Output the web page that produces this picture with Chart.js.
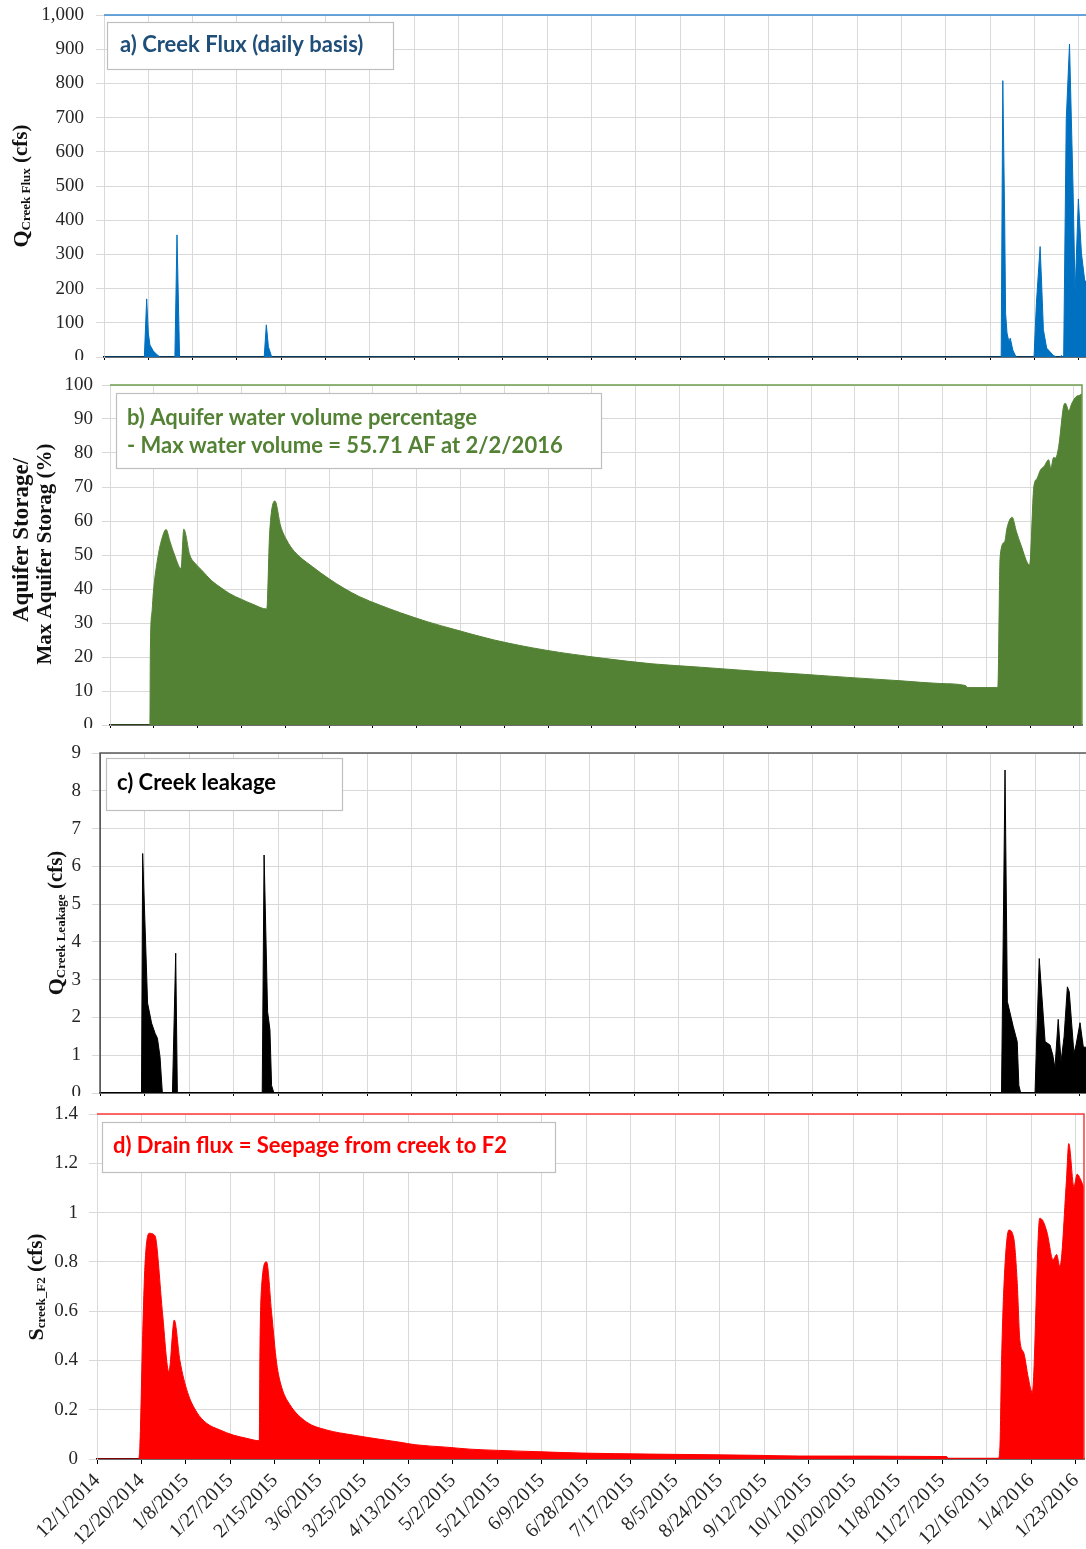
<!DOCTYPE html>
<html>
<head>
<meta charset="utf-8">
<title>Creek flux, aquifer storage, leakage and drain flux</title>
<script src="https://cdn.jsdelivr.net/npm/chart.js@4.4.1/dist/chart.umd.min.js"></script>
<style>
  html, body { margin: 0; padding: 0; background: #fff; overflow: hidden; }
  body { width: 1086px; height: 1549px; position: relative; }
  canvas { position: absolute; left: 0; }
</style>
</head>
<body>
<canvas id="panelA" width="1100" height="360" style="top:0px"></canvas>
<canvas id="panelB" width="1086" height="368" style="top:360px"></canvas>
<canvas id="panelC" width="1100" height="368" style="top:728px"></canvas>
<canvas id="panelD" width="1086" height="453" style="top:1096px"></canvas>
<script>
// x axis: days since 12/1/2014, one tick every 19 days
var dateLabels = ['12/1/2014', '12/20/2014', '1/8/2015', '1/27/2015', '2/15/2015', '3/6/2015',
  '3/25/2015', '4/13/2015', '5/2/2015', '5/21/2015', '6/9/2015', '6/28/2015', '7/17/2015',
  '8/5/2015', '8/24/2015', '9/12/2015', '10/1/2015', '10/20/2015', '11/8/2015', '11/27/2015',
  '12/16/2015', '1/4/2016', '1/23/2016'];
var xMax = 421.5;

// a) creek flux (cfs)
var creekFluxDays = [0, 17.3, 18.3, 19, 19.7, 21.1, 22.5, 24, 30.4, 31.3, 32.4, 68.7, 69.6, 70.5, 71.9,
  384.7, 385.4, 386.2, 386.6, 387.2, 388, 388.6, 389.7, 391.1, 398.8, 399.8, 401.4, 402.1, 402.8,
  404.2, 407, 408.4, 410, 410.5, 411, 411.5, 412.6, 414, 415.5, 416.4, 417.8, 419.1, 420.5, 421.5];
var creekFluxCfs = [0, 0, 170, 70, 35, 18, 8, 0, 0, 357, 0, 0, 94, 30, 0,
  0, 808, 400, 128, 70, 45, 55, 20, 0, 0, 157, 323, 205, 80,
  26, 5, 0, 0, 5, 0, 0, 693, 915, 498, 187, 462, 304, 225, 215];

// b) aquifer storage / max storage (%)
var aquiferDays = [0, 17.3, 17.5, 18.3, 18.8, 20.8, 22.6, 24.3, 26, 28, 30.8, 32, 34.6, 37, 39.7, 44,
  48.3, 52, 56.9, 62, 68, 69.2, 71.5, 74, 76.6, 80, 87.7, 95, 101.5, 108, 116.9, 126, 137.5, 150,
  166.6, 189, 213, 235, 256, 280, 299, 320, 343, 360, 371, 372, 385, 386, 388, 389, 391.2, 393,
  395, 398.8, 400.6, 402, 403.5, 405, 407, 408, 409.2, 410, 411.4, 413.6, 414.3, 415.8, 417, 419,
  420.5, 421.5];
var aquiferPct = [0, 0, 22, 34, 39, 49.5, 55, 57.5, 54, 50, 46, 57.6, 50, 47.5, 45.6, 42.5,
  40.3, 38.6, 37, 35.5, 34.1, 56, 65.9, 58.5, 54.4, 51, 46.6, 43, 40.2, 37.8, 35.3, 33, 30.4, 28,
  25, 22, 19.7, 18, 17, 15.8, 15, 14, 13, 12.2, 11.6, 11, 11, 49.5, 54, 58, 61.1, 57,
  53, 47, 70, 72.5, 75, 76, 78, 75.6, 78.7, 78.5, 81.9, 94, 94.6, 92.4, 94.5, 96.6,
  97, 97.5];

// c) creek leakage (cfs)
var leakageDays = [0, 17.7, 18.2, 20.3, 22, 23.5, 24.5, 25.6, 26.6, 30.9, 32.3, 33, 69.2, 70, 71.5,
  72.5, 73.2, 74.2, 384.6, 386.1, 387.1, 389.6, 391.3, 392, 392.8, 398.9, 400.7, 403.2, 405.3,
  406.5, 407.4, 408.8, 410, 411.3, 412.7, 413.5, 415.5, 416.4, 418.1, 419.5, 421.5];
var leakageCfs = [0, 0, 6.34, 2.38, 1.85, 1.58, 1.45, 0.96, 0, 0, 3.7, 0, 0, 6.3, 2.15,
  1.67, 0.2, 0, 0, 8.55, 2.42, 1.76, 1.36, 0.2, 0, 0, 3.56, 1.36, 1.27,
  1.0, 0.66, 1.95, 0.83, 1.49, 2.81, 2.68, 1.05, 1.27, 1.86, 1.22, 1.2];

// d) drain flux = seepage from creek to F2 (cfs)
var drainDays = [0, 17.6, 18.3, 19.5, 20.5, 22.3, 24.3, 25.2, 28, 30.7, 33, 35.4, 38.7, 42.6, 46.8,
  52.5, 58.2, 63.9, 69.3, 69.6, 70.3, 72.4, 74.6, 76.7, 78.9, 82.4, 89.5, 98, 109.4, 120.8, 129.4,
  135.8, 149.3, 159.3, 171.4, 187, 207, 236, 281.7, 300, 362.8, 363.5, 384.9, 385.6, 386.3, 387.3,
  389.4, 391.5, 393, 394.1, 395.8, 397.7, 399.4, 402.6, 404.1, 405.8, 408.3, 409.8, 411.2, 414,
  415, 417.2, 418.6, 420, 421.5];
var drainCfs = [0, 0, 0.05, 0.5, 0.79, 0.916, 0.91, 0.89, 0.59, 0.354, 0.564, 0.40, 0.27, 0.19, 0.145,
  0.118, 0.097, 0.084, 0.074, 0.45, 0.70, 0.80, 0.59, 0.39, 0.29, 0.22, 0.15, 0.118, 0.097, 0.08, 0.068,
  0.058, 0.048, 0.04, 0.035, 0.03, 0.024, 0.02, 0.015, 0.012, 0.01, 0.003, 0.003, 0.05, 0.40, 0.70,
  0.929, 0.896, 0.713, 0.483, 0.43, 0.33, 0.27, 0.977, 0.964, 0.916, 0.808, 0.83, 0.78, 1.13,
  1.28, 1.105, 1.156, 1.135, 1.1];

var day0 = Date.UTC(2014, 11, 1);
function dayOf(label) {
    var p = label.split('/');
    return Math.round((Date.UTC(+p[2], +p[0] - 1, +p[1]) - day0) / 864e5);
}
var tickDays = dateLabels.map(dayOf);

var GRID = '#d9d9d9';
var SERIF = '"Liberation Serif", "Times New Roman", serif';

// rotated y title, parts drawn one after another (subscripts shifted toward page right)
function drawRotated(ctx, cx, cy, parts) {
    ctx.save();
    ctx.translate(cx, cy);
    ctx.rotate(-Math.PI / 2);
    ctx.textBaseline = 'middle';
    ctx.textAlign = 'left';
    var total = 0;
    parts.forEach(function (p) {
        ctx.font = 'bold ' + p.size + 'px ' + SERIF;
        p.w = ctx.measureText(p.text).width;
        total += p.w;
    });
    var x = -total / 2;
    ctx.fillStyle = '#111';
    parts.forEach(function (p) {
        ctx.font = 'bold ' + p.size + 'px ' + SERIF;
        ctx.fillText(p.text, x, p.dy || 0);
        x += p.w;
    });
    ctx.restore();
}

function decorPlugin(p) {
    return {
        id: 'decor',
        afterDraw: function (chart) {
            var ctx = chart.ctx, a = chart.chartArea, off = p.top;
            ctx.save();
            ctx.strokeStyle = p.frameColor;
            ctx.lineWidth = 1.5;
            ctx.beginPath();
            if (p.frameLeft) {
                ctx.moveTo(a.left, a.bottom);
                ctx.lineTo(a.left, a.top);
            } else {
                ctx.moveTo(a.left, a.top);
            }
            ctx.lineTo(a.right, a.top);
            ctx.lineTo(a.right, a.bottom);
            ctx.stroke();

            var b = p.box;
            ctx.fillStyle = '#fff';
            ctx.fillRect(b.x, b.y - off, b.w, b.h);
            ctx.strokeStyle = '#bfbfbf';
            ctx.lineWidth = 1.2;
            ctx.strokeRect(b.x + 0.5, b.y - off + 0.5, b.w, b.h);
            ctx.fillStyle = p.noteColor;
            ctx.font = 'bold 22px Lato, "Open Sans", sans-serif';
            ctx.textBaseline = 'alphabetic';
            ctx.textAlign = 'left';
            b.lines.forEach(function (l) {
                ctx.fillText(l.text, l.x, l.y - off, l.w);
            });

            p.yTitle.forEach(function (t) {
                drawRotated(ctx, t.x, t.y - off, t.parts);
            });
            ctx.restore();
        }
    };
}

function makePanel(id, p) {
    var pts = p.days.map(function (d, i) { return { x: d, y: p.values[i] }; });
    var canvas = document.getElementById(id);
    return new Chart(canvas, {
        type: 'line',
        data: {
            datasets: [{
                data: pts,
                borderColor: p.color,
                backgroundColor: p.color,
                borderWidth: 1,
                pointRadius: 0,
                fill: 'origin',
                cubicInterpolationMode: p.smooth ? 'monotone' : 'default',
                tension: 0
            }]
        },
        options: {
            responsive: false,
            animation: false,
            devicePixelRatio: 1,
            layout: { padding: { top: p.chartTop - p.top, right: canvas.width - p.chartRight, left: 0, bottom: 0 } },
            plugins: { legend: { display: false }, tooltip: { enabled: false } },
            scales: {
                x: {
                    type: 'linear',
                    min: 0,
                    max: xMax,
                    afterBuildTicks: function (s) {
                        s.ticks = tickDays.map(function (v) { return { value: v }; });
                    },
                    afterFit: function (s) {
                        s.height = p.top + canvas.height - p.chartBottom;
                        s.paddingLeft = 0;
                        s.paddingRight = 0;
                    },
                    grid: { color: GRID, lineWidth: 1, tickColor: '#000', tickLength: 5 },
                    border: { color: '#000', width: 1.5 },
                    ticks: {
                        display: !!p.showDates,
                        autoSkip: false,
                        maxRotation: 45,
                        minRotation: 45,
                        padding: 5,
                        color: '#262626',
                        font: { family: SERIF, size: 20 },
                        callback: function (v, i) { return dateLabels[i]; }
                    }
                },
                y: {
                    min: 0,
                    max: p.yMax,
                    afterFit: function (s) {
                        s.width = p.chartLeft;
                        s.paddingTop = 0;
                        s.paddingBottom = 0;
                    },
                    grid: { color: GRID, lineWidth: 1, tickColor: GRID, tickLength: 8 },
                    border: { color: p.yBorder || GRID, width: 1 },
                    ticks: {
                        stepSize: p.step,
                        padding: p.tickPad,
                        color: '#262626',
                        font: { family: SERIF, size: 19 },
                        callback: p.fmt
                    }
                }
            }
        },
        plugins: [decorPlugin(p)]
    });
}

makePanel('panelA', {
    top: 0, chartTop: 15, chartBottom: 357, chartLeft: 104, chartRight: 1087,
    days: creekFluxDays, values: creekFluxCfs, color: '#0070c0',
    yMax: 1000, step: 100, tickPad: 12,
    fmt: function (v) { return v.toLocaleString('en-US'); },
    frameColor: '#3c8ad3',
    noteColor: '#1f4e79',
    box: { x: 107, y: 22, w: 286, h: 47, lines: [{ text: 'a) Creek Flux (daily basis)', x: 120, y: 52, w: 259 }] },
    yTitle: [{ x: 22, y: 186, parts: [
        { text: 'Q', size: 22 }, { text: 'Creek Flux', size: 13, dy: 5 }, { text: ' (cfs)', size: 21 }] }]
});

makePanel('panelB', {
    top: 360, chartTop: 385, chartBottom: 725, chartLeft: 110, chartRight: 1082,
    days: aquiferDays, values: aquiferPct, color: '#548235', smooth: true,
    yMax: 100, step: 10, tickPad: 9,
    fmt: function (v) { return String(v); },
    frameColor: '#6f9f4f',
    noteColor: '#548235',
    box: { x: 116, y: 393, w: 485, h: 75, lines: [
        { text: 'b) Aquifer water volume percentage', x: 127, y: 425, w: 372 },
        { text: '- Max water volume = 55.71 AF at 2/2/2016', x: 127, y: 453, w: 448 }] },
    yTitle: [
        { x: 22, y: 540, parts: [{ text: 'Aquifer Storage/', size: 23 }] },
        { x: 46, y: 554, parts: [{ text: 'Max Aquifer Storag (%)', size: 21 }] }]
});

makePanel('panelC', {
    top: 728, chartTop: 753, chartBottom: 1093, chartLeft: 100, chartRight: 1088,
    days: leakageDays, values: leakageCfs, color: '#000000',
    yMax: 9, step: 1, tickPad: 11,
    fmt: function (v) { return String(v); },
    frameColor: '#595959', frameLeft: true, yBorder: '#595959',
    noteColor: '#000000',
    box: { x: 106, y: 758, w: 236, h: 52, lines: [{ text: 'c) Creek leakage', x: 117, y: 790, w: 166 }] },
    yTitle: [{ x: 57, y: 923, parts: [
        { text: 'Q', size: 22 }, { text: 'Creek Leakage', size: 13, dy: 5 }, { text: ' (cfs)', size: 21 }] }]
});

makePanel('panelD', {
    top: 1096, chartTop: 1114, chartBottom: 1459, chartLeft: 97, chartRight: 1084,
    days: drainDays, values: drainCfs, color: '#ff0000', smooth: true,
    yMax: 1.4, step: 0.2, tickPad: 11, showDates: true,
    fmt: function (v) { return String(+v.toFixed(1)); },
    frameColor: '#ff3b3b',
    noteColor: '#ff0000',
    box: { x: 102, y: 1122, w: 453, h: 50, lines: [{ text: 'd) Drain flux = Seepage from creek to F2', x: 113, y: 1153, w: 428 }] },
    yTitle: [{ x: 37, y: 1287, parts: [
        { text: 'S', size: 22 }, { text: 'creek_F2', size: 13, dy: 5 }, { text: ' (cfs)', size: 21 }] }]
});
</script>
</body>
</html>
